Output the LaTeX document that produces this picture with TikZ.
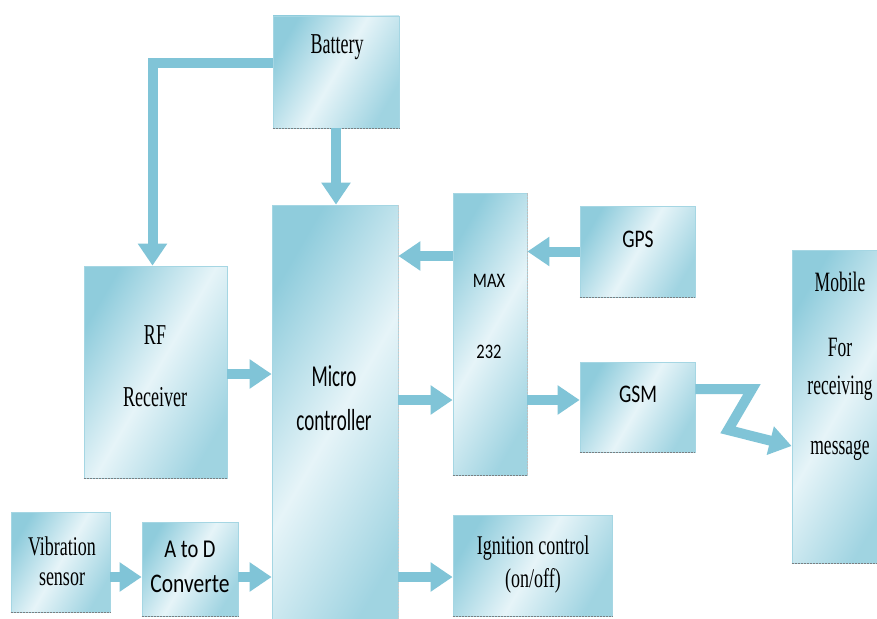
\documentclass[tikz,border=0pt]{standalone}
\usepackage{graphicx}
\usepackage{fontspec}
\setmainfont{Liberation Serif}
\newfontfamily\carlitofont{Carlito}
\usetikzlibrary{arrows.meta,fit,shadings}
\definecolor{boxdark}{HTML}{8FCCDC}
\definecolor{boxlight}{HTML}{E6F4F8}
\definecolor{arrowc}{HTML}{80C4D7}
\definecolor{shadowc}{HTML}{7A7F82}
\newcommand{\vs}[2]{\scalebox{1}[#1]{#2}}
\begin{document}
\begin{tikzpicture}[x=1pt,y=-1pt,
  box/.style={inner sep=0pt, draw=boxdark!80, line width=0.8pt,
    left color=boxdark, right color=boxdark!85, middle color=boxlight, shading angle=60},
  fat/.style={draw=arrowc, line width=10pt, line join=miter,
    -{Triangle[width=28pt,length=22pt]}},
  shadowline/.style={draw=shadowc, line width=1.6pt, dash pattern=on 2pt off 1pt},
  st/.style={font=\fontsize{18}{18}\selectfont, text=black, inner sep=0pt},
  ss/.style={font=\carlitofont\fontsize{19}{19}\selectfont, text=black, inner sep=0pt}]
\useasboundingbox (0,0) rectangle (877,618);
\clip (0,0) rectangle (877,618);
\fill[white] (0,0) rectangle (877,618);

% boxes
\node[box, fit={(273,16) (399,128)}] (bat) {};
\node[box, fit={(84,266) (227,478)}] (rf) {};
\node[box, fit={(272,205) (398,640)}] (mc) {};
\node[box, fit={(453,193) (527,475)}] (max) {};
\node[box, fit={(580,206) (695,297)}] (gps) {};
\node[box, fit={(580,362) (695,452)}] (gsm) {};
\node[box, fit={(792,250) (890,563)}] (mob) {};
\node[box, fit={(11,512) (110,612)}] (vib) {};
\node[box, fit={(142,522) (238,616)}] (atd) {};
\node[box, fit={(453,515) (612,616)}] (ign) {};

% shadows on bottom edges
\foreach \n in {bat,rf,max,gps,gsm,mob,vib,atd,ign}{
  \draw[shadowline] (\n.south west) -- (\n.south east);
}
\draw[shadowline, draw=shadowc!50] (max.south east) -- (max.north east);
\draw[shadowline, draw=shadowc!40] (mc.south east) -- (mc.north east);

% texts
\node[st] (tbat) at (337,47) {\vs{1.6}{Battery}};
\node[st] (trf1) at (155,335) {\vs{1.6}{RF}};
\node[st] (trf2) at (155,397) {\vs{1.6}{Receiver}};
\node[ss] (tmc1) at (334,376) {\vs{1.6}{Micro}};
\node[ss] (tmc2) at (334,420) {\vs{1.6}{controller}};
\node[ss, font=\carlitofont\fontsize{16.5}{16.5}\selectfont] (tmax1) at (489,281) {\vs{1.25}{MAX}};
\node[ss, font=\carlitofont\fontsize{16.5}{16.5}\selectfont] (tmax2) at (489,352) {\vs{1.25}{232}};
\node[ss, font=\carlitofont\fontsize{19.5}{19.5}\selectfont] (tgps) at (638,239) {\vs{1.3}{GPS}};
\node[ss, font=\carlitofont\fontsize{19.5}{19.5}\selectfont] (tgsm) at (638,394) {\vs{1.3}{GSM}};
\node[st, font=\fontsize{17.5}{17.5}\selectfont] (tmob1) at (840,282) {\vs{1.6}{Mobile}};
\node[st, font=\fontsize{17.5}{17.5}\selectfont] (tmob2) at (840,347) {\vs{1.6}{For}};
\node[st, font=\fontsize{17.5}{17.5}\selectfont] (tmob3) at (840,388) {\vs{1.6}{receiving}};
\node[st, font=\fontsize{17.5}{17.5}\selectfont] (tmob4) at (840,450) {\vs{1.6}{message}};
\node[st] (tvib1) at (62,546) {\vs{1.5}{Vibration}};
\node[st] (tvib2) at (62,579) {\vs{1.5}{sensor}};
\node[ss, font=\carlitofont\fontsize{20.5}{20.5}\selectfont] (tatd1) at (190,549) {\vs{1.25}{A to D}};
\node[ss, font=\carlitofont\fontsize{21.5}{21.5}\selectfont] (tatd2) at (190,584) {\vs{1.25}{Converte}};
\node[st] (tign1) at (533,548) {\vs{1.5}{Ignition control}};
\node[st] (tign2) at (533,581) {\vs{1.5}{(on/off)}};

% connectors
\draw[fat] (bat.south) -- (bat.south |- mc.north);
\draw[fat] ([yshift=9pt]bat.west) -| ([xshift=-3pt]rf.north);
\draw[fat] (rf.east |- 0,374) -- (mc.west |- 0,374);
\draw[fat] (gps.west) -- (gps.west -| max.east);
\draw[fat] (max.west |- 0,256) -- (mc.east |- 0,256);
\draw[fat] (mc.east |- 0,400) -- (max.west |- 0,400);
\draw[fat] (max.east |- 0,400) -- (gsm.west |- 0,400);
\coordinate (z1) at (752,389);
\coordinate (z2) at (728,430);
\draw[fat] (gsm.east |- z1) -- (z1) -- (z2) -- (mob.west |- 0,446);
\draw[fat] (vib.east |- 0,577) -- (atd.west |- 0,577);
\draw[fat] (atd.east |- 0,577) -- (mc.west |- 0,577);
\draw[fat] (mc.east |- 0,577) -- (ign.west |- 0,577);
\end{tikzpicture}
\end{document}
